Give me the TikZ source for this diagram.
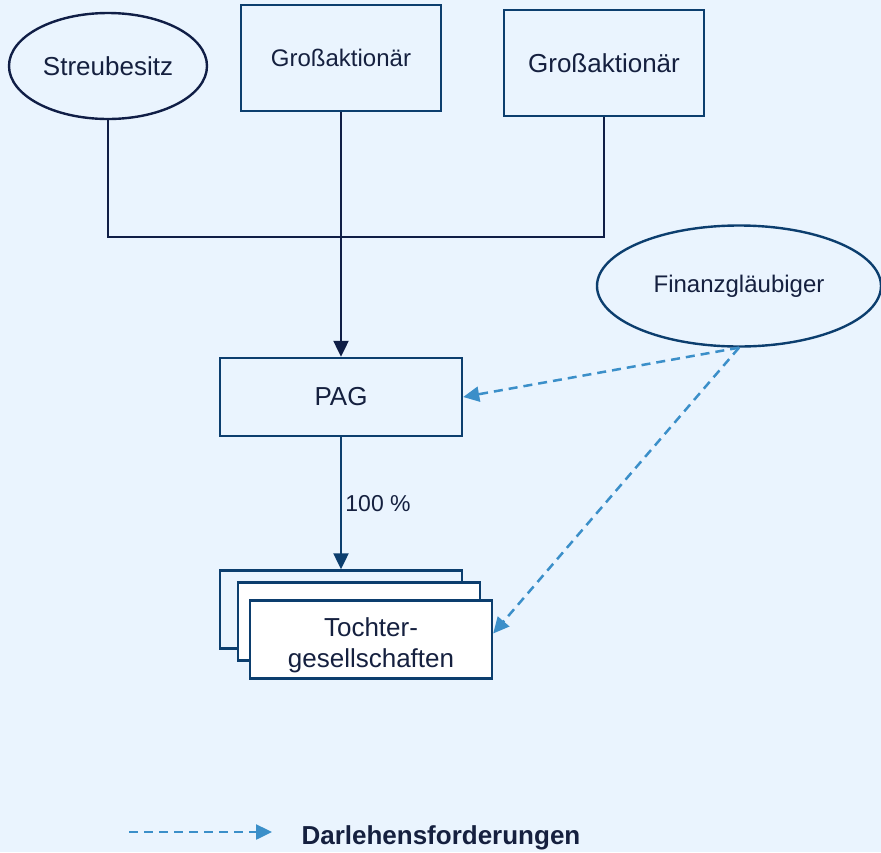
\documentclass[tikz,border=0pt]{standalone}
\usepackage{fontspec}
\setmainfont{Liberation Sans}
\usepackage{tikz}
\usetikzlibrary{arrows.meta, shapes.geometric}
\tikzset{>={Triangle[width=15pt,length=16pt]}}
\definecolor{bgblue}{RGB}{234,244,254}
\definecolor{navy}{RGB}{16,30,70}
\definecolor{boxblue}{RGB}{12,62,110}
\definecolor{loanblue}{RGB}{59,143,201}
\definecolor{inkblue}{RGB}{21,32,63}
\tikzset{
    holder/.style={draw=boxblue, line width=2.4pt, minimum width=200pt, minimum height=106pt, text=inkblue},
    entity/.style={draw=boxblue, line width=2.4pt, minimum width=242pt, minimum height=78pt, text=inkblue},
    own/.style={draw=navy, line width=2.2pt},
    loan/.style={->, draw=loanblue, line width=2.5pt, dash pattern=on 9pt off 6pt},
    big/.style={font=\fontsize{26pt}{31.5pt}\selectfont},
    mid/.style={font=\fontsize{24pt}{28pt}\selectfont},
}

\begin{document}
\begin{tikzpicture}[x=1pt, y=-1pt]
    \fill[bgblue] (0,0) rectangle (881,852);
    \useasboundingbox (0,0) rectangle (881,852);

    \node[ellipse, draw=navy, line width=2.4pt, minimum width=198pt, minimum height=106pt, text=inkblue, big] (streu) at (108,66) {Streubesitz};
    \node[holder, mid] (grossA) at (341,58) {Großaktionär};
    \node[holder, big] (grossB) at (604,63) {Großaktionär};
    \node[ellipse, draw=boxblue, line width=2.4pt, minimum width=284pt, minimum height=121pt, text=inkblue, mid] (fin) at (739,286) {Finanzgläubiger};

    \node[entity, big] (pag) at (341,397) {PAG};
    \node[entity] (toch3) at (341,609.5) {};
    \node[entity, fill=white] (toch2) at (359,621.5) {};
    \node[entity, fill=white, align=center, big] (toch1) at (371,639.5) {\rule{0pt}{30pt}Tochter-\\gesellschaften};

    \coordinate (jn) at (341,237);
    \draw[own] (streu.south) |- (jn);
    \draw[own] (grossB.south) |- (jn);
    \draw[own, ->] (grossA.south) -- (pag.north);
    \draw[own, draw=boxblue, ->] (pag.south) -- node [midway,right,text=inkblue,font=\fontsize{23pt}{27pt}\selectfont] {100 \%} (toch3.north);

    \draw[loan] (fin.south) -- (pag.east);
    \draw[loan] (fin.south) -- ([yshift=6pt]toch1.east);

    \coordinate (leg-start) at (129,832);
    \coordinate (leg-end) at (272,832);
    \node[anchor=base west, text=inkblue, font=\fontsize{26pt}{31.5pt}\selectfont\bfseries] (leg) at (298,844) {Darlehensforderungen};
    \draw[loan] (leg-start) -- (leg-end);
\end{tikzpicture}
\end{document}
